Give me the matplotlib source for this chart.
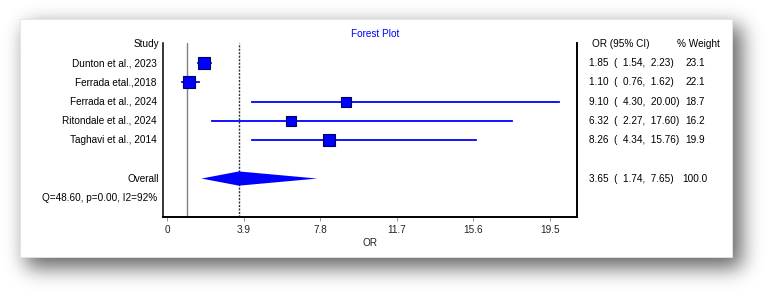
import math
import numpy as np
import matplotlib.pyplot as plt
from matplotlib.patches import Rectangle, Polygon

plt.rcParams['font.family'] = ['Liberation Sans', 'DejaVu Sans']

# Study data
studies = ['Dunton et al., 2023', 'Ferrada etal.,2018', 'Ferrada et al., 2024',
           'Ritondale et al., 2024', 'Taghavi et al., 2014']
odds = [1.85, 1.10, 9.10, 6.32, 8.26]
lower = [1.54, 0.76, 4.30, 2.27, 4.34]
upper = [2.23, 1.62, 20.00, 17.60, 15.76]
weights = [23.1, 22.1, 18.7, 16.2, 19.9]

# Pooled estimate
overall_or = 3.65
overall_lo = 1.74
overall_hi = 7.65
overall_w = 100.0
het_text = 'Q=48.60, p=0.00, I2=92%'

xticks = [0, 3.9, 7.8, 11.7, 15.6, 19.5]

blue = '#0000ff'
fs = 7.2

fig = plt.figure(figsize=(7.75, 3), dpi=100)

# card with a soft drop shadow
bg = fig.add_axes([0, 0, 1, 1])
bg.set_xlim(0, 775)
bg.set_ylim(300, 0)
bg.axis('off')
erf = np.vectorize(math.erf)
sig = 10 * math.sqrt(2)
px = np.arange(775) + 0.5
py = np.arange(300) + 0.5
fx = 0.5 * (erf((px - 26) / sig) - erf((px - 742) / sig))
fy = 0.5 * (erf((py - 26) / sig) - erf((py - 268) / sig))
shadow = np.zeros((300, 775, 4))
shadow[..., 3] = 0.6 * np.outer(fy, fx)
bg.imshow(shadow, extent=(0, 775, 300, 0), interpolation='bilinear', zorder=0)
bg.add_patch(Rectangle((20, 19), 712, 238, facecolor='white', edgecolor='#e4e4e4',
                       lw=0.6, zorder=1))

ax = fig.add_axes([163 / 775, 83 / 300, 414 / 775, 174 / 300])
ax.set_facecolor('none')
ax.set_xlim(-0.224, 20.898)
ax.set_ylim(9, -0.05)

rows = np.arange(1, len(studies) + 1)
overall_row = len(studies) + 2

ax.axvline(1, color='#808080', lw=1, zorder=1)
ax.axvline(overall_or, color='#333333', lw=1, ls=(0, (1.5, 1)), zorder=1)

for i in range(len(studies)):
    ax.plot([lower[i], upper[i]], [rows[i], rows[i]], color=blue, lw=1.3, zorder=2)
    ax.plot(odds[i], rows[i], marker='s', color=blue, markeredgecolor='#000060',
            markeredgewidth=0.8, markersize=1.8 * math.sqrt(weights[i]), zorder=3)

h = 0.37
ax.add_patch(Polygon([[overall_lo, overall_row], [overall_or, overall_row - h],
                      [overall_hi, overall_row], [overall_or, overall_row + h]],
                     closed=True, facecolor=blue, edgecolor='none', zorder=3))

for s in ['top']:
    ax.spines[s].set_visible(False)
ax.spines['left'].set_linewidth(1.1)
ax.spines['right'].set_linewidth(1.4)
ax.spines['bottom'].set_linewidth(1.4)
ax.set_yticks([])
ax.set_xticks(xticks)
ax.set_xticklabels(['0', '3.9', '7.8', '11.7', '15.6', '19.5'])
ax.tick_params(axis='x', length=3, width=0.6, color='#888888', labelsize=fs,
               labelcolor='#222222', pad=3)
ax.set_xlabel('OR', fontsize=fs, color='#222222', labelpad=2)

tr = ax.get_yaxis_transform()
ax.text(-0.01, 0, 'Study', transform=tr, ha='right', va='center', fontsize=fs)
for i, s in enumerate(studies):
    ax.text(-0.015, rows[i], s, transform=tr, ha='right', va='center', fontsize=fs)
ax.text(-0.01, overall_row, 'Overall', transform=tr, ha='right', va='center', fontsize=fs)
ax.text(-0.015, overall_row + 1, het_text, transform=tr, ha='right', va='center', fontsize=fs)

ax.text(1.036, 0, 'OR (95% CI)', transform=tr, ha='left', va='center', fontsize=fs)
ax.text(1.293, 0, '% Weight', transform=tr, ha='center', va='center', fontsize=fs)
for i in range(len(studies)):
    ax.text(1.029, rows[i], f'{odds[i]:.2f}  (  {lower[i]:.2f},  {upper[i]:.2f})',
            transform=tr, ha='left', va='center', fontsize=fs)
    ax.text(1.285, rows[i], f'{weights[i]:.1f}', transform=tr, ha='center',
            va='center', fontsize=fs)
ax.text(1.029, overall_row, f'{overall_or:.2f}  (  {overall_lo:.2f},  {overall_hi:.2f})',
        transform=tr, ha='left', va='center', fontsize=fs)
ax.text(1.285, overall_row, f'{overall_w:.1f}', transform=tr, ha='center',
        va='center', fontsize=fs)

fig.text(375 / 775, 1 - 34 / 300, 'Forest Plot', color=blue, ha='center',
         va='center', fontsize=fs)

fig.savefig('out.png', dpi=100)
